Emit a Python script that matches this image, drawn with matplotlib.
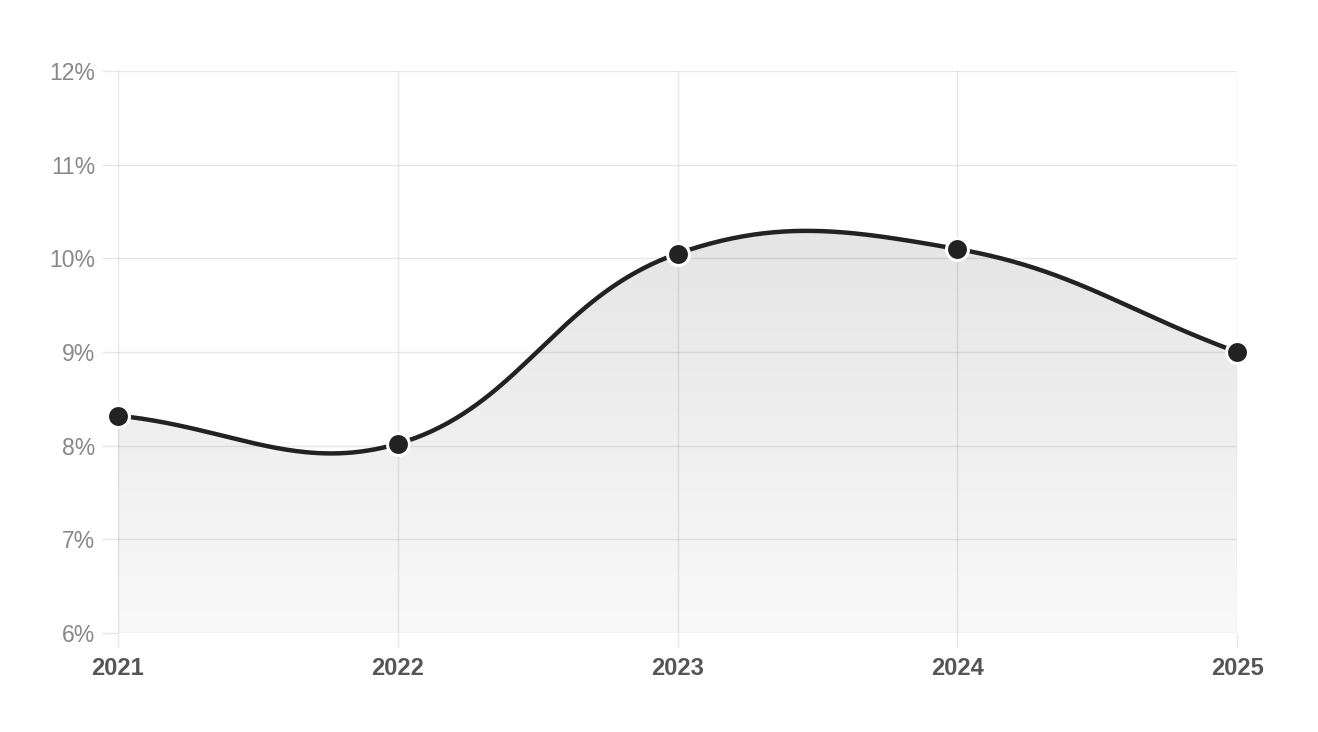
import numpy as np
import matplotlib.pyplot as plt
from matplotlib.patches import Polygon

years = [2021, 2022, 2023, 2024, 2025]
rates = [8.32, 8.02, 10.05, 10.10, 9.00]
yticks = [6, 7, 8, 9, 10, 11, 12]

plt.rcParams['font.family'] = ['Liberation Sans', 'DejaVu Sans']

fig = plt.figure(figsize=(13.18, 7.32), dpi=100)
ax = fig.add_axes([118 / 1318, 99 / 732, 1119 / 1318, 562 / 732])
ax.set_xlim(years[0], years[-1])
ax.set_ylim(6, 12)

# smooth curve like chart.js (tension 0.4), computed in screen space
pts = ax.transData.transform(np.column_stack([years, rates]))
t = 0.4
n = len(pts)
cp_prev = np.zeros_like(pts)
cp_next = np.zeros_like(pts)
for i in range(n):
    p0 = pts[max(i - 1, 0)]
    p1 = pts[i]
    p2 = pts[min(i + 1, n - 1)]
    d01 = np.hypot(*(p1 - p0))
    d12 = np.hypot(*(p2 - p1))
    s01 = d01 / (d01 + d12) if d01 + d12 else 0
    s12 = d12 / (d01 + d12) if d01 + d12 else 0
    cp_prev[i] = p1 - t * s01 * (p2 - p0)
    cp_next[i] = p1 + t * s12 * (p2 - p0)

u = np.linspace(0, 1, 80)[:, None]
seg = []
for i in range(n - 1):
    a, b, c, d = pts[i], cp_next[i], cp_prev[i + 1], pts[i + 1]
    seg.append((1 - u) ** 3 * a + 3 * (1 - u) ** 2 * u * b + 3 * (1 - u) * u ** 2 * c + u ** 3 * d)
curve = ax.transData.inverted().transform(np.vstack(seg))
cx, cy = curve[:, 0], curve[:, 1]

# gradient fill under the curve
grad = np.linspace(221, 249, 256)[:, None] / 255.0
img = ax.imshow(np.dstack([grad, grad, grad]), extent=[years[0], years[-1], 6, 12],
                aspect='auto', origin='upper', zorder=1, interpolation='bicubic')
poly = Polygon(np.vstack([curve, [[years[-1], 6], [years[0], 6]]]), closed=True,
               facecolor='none', edgecolor='none')
ax.add_patch(poly)
img.set_clip_path(poly)

ax.plot(cx, cy, color='#222222', lw=3.2, zorder=3, solid_capstyle='round', clip_on=False)
ax.plot(years, rates, 'o', ms=15.8, mfc='#222222', mec='white', mew=2.2, zorder=4, clip_on=False)

gridc = (0, 0, 0, 0.09)
ax.set_xticks(years)
ax.set_xticklabels([str(y) for y in years], fontsize=17, fontweight='bold', color='#555555')
ax.set_yticks(yticks)
ax.set_yticklabels([f'{v}%' for v in yticks], fontsize=16.5, color='#888888')
ax.tick_params(axis='x', length=11, width=1, color=gridc, pad=6)
ax.tick_params(axis='y', length=11.5, width=1, color=gridc, pad=5)
ax.grid(True, color='black', alpha=0.09, lw=1)
ax.set_axisbelow(False)
for s in ax.spines.values():
    s.set_visible(False)

fig.savefig('out.png', dpi=100)
